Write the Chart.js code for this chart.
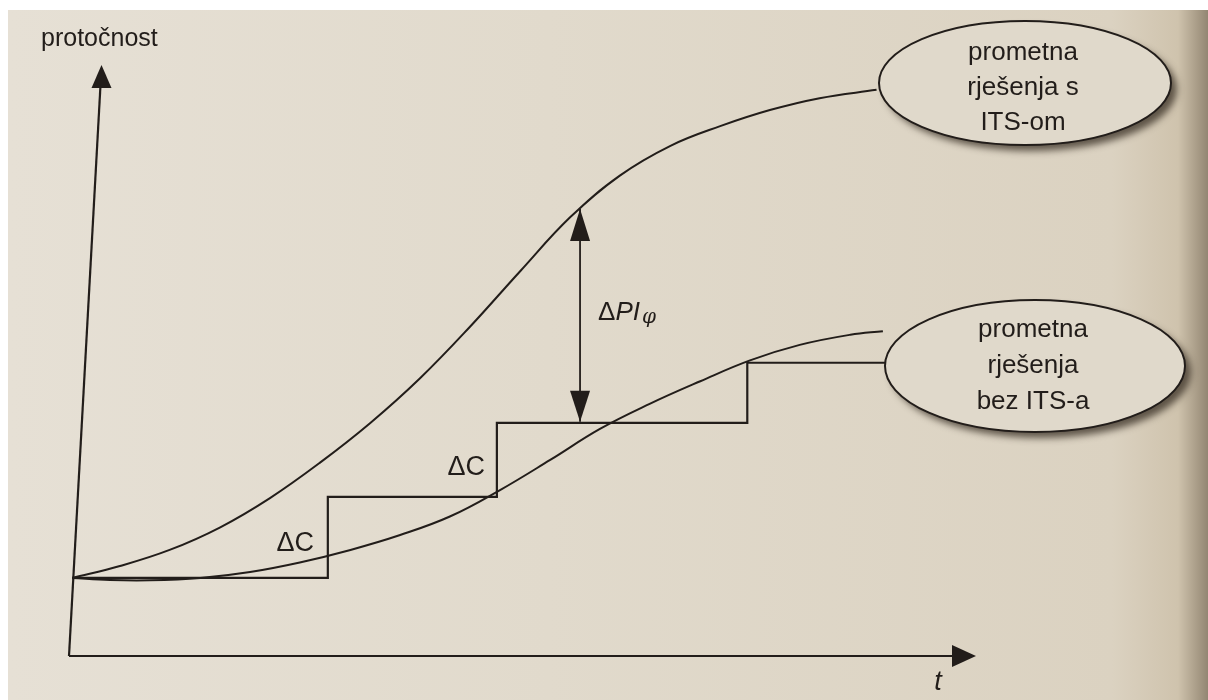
<!DOCTYPE html>
<html><head><meta charset="utf-8">
<script src="https://cdn.jsdelivr.net/npm/chart.js@4/dist/chart.umd.min.js"></script>
<style>html,body{margin:0;padding:0;background:#fff;} canvas{display:block}</style>
</head><body>
<canvas id="c" width="1208" height="700"></canvas>
<script>
// ---- data (t = time, flow = protočnost; arbitrary units 0..100) ----
const tWithITS       = [0, 5.3, 10.8, 16.4, 21.9, 27.4, 33.0, 38.5, 44.0, 49.6, 55.1, 60.6, 66.2, 71.7, 77.2, 82.7, 89.0];
const flowWithITS    = [13.1, 15.1, 17.8, 21.6, 26.5, 32.4, 39.1, 46.6, 55.2, 64.6, 73.6, 80.6, 85.6, 88.9, 91.6, 93.6, 95.0];
const tWithoutITS    = [0, 4.2, 8.6, 14.2, 19.7, 25.2, 30.8, 36.3, 41.8, 47.3, 52.9, 58.4, 63.9, 69.5, 75.0, 80.5, 86.1, 89.7];
const flowWithoutITS = [13.1, 12.75, 12.7, 13.1, 14.1, 15.7, 17.8, 20.3, 23.4, 27.8, 32.9, 38.1, 42.3, 46.1, 49.6, 52.2, 53.9, 54.5];
const tSteps         = [0, 28.3, 47.0, 74.7, 90.2];
const flowSteps      = [13.1, 26.7, 39.1, 49.2, 49.2];
const tGap           = [56.2, 56.2];
const flowGap        = [39.3, 75.0];
const labelWithITS    = ['prometna', 'rješenja s', 'ITS-om'];
const labelWithoutITS = ['prometna', 'rješenja', 'bez ITS-a'];
const yTitle = 'protočnost';
const xTitle = 't';

const ink = '#221d1a';
const pts = (xs, ys) => xs.map((x, i) => ({x, y: ys[i]}));

const bgPlugin = {
  id: 'bg',
  beforeDraw(chart) {
    const {ctx, width, height} = chart;
    ctx.save();
    ctx.fillStyle = '#ffffff';
    ctx.fillRect(0, 0, width, height);
    const g = ctx.createLinearGradient(8, 0, width, 0);
    g.addColorStop(0, '#e6e0d5');
    g.addColorStop(0.45, '#e1dacc');
    g.addColorStop(0.92, '#dbd2c1');
    g.addColorStop(0.975, '#cfc3ad');
    g.addColorStop(1, '#938672');
    ctx.fillStyle = g;
    ctx.fillRect(8, 10, width - 8, height - 10);
    ctx.restore();
  }
};

function tri(ctx, pts) {
  ctx.beginPath();
  ctx.moveTo(pts[0][0], pts[0][1]);
  ctx.lineTo(pts[1][0], pts[1][1]);
  ctx.lineTo(pts[2][0], pts[2][1]);
  ctx.closePath();
  ctx.fill();
}

const axesPlugin = {
  id: 'axesArrows',
  beforeDatasetsDraw(chart) {
    const {ctx, chartArea: ca} = chart;
    ctx.save();
    ctx.strokeStyle = ink; ctx.fillStyle = ink; ctx.lineWidth = 2.2;
    // x axis
    ctx.beginPath();
    ctx.moveTo(ca.left - 3, ca.bottom);
    ctx.lineTo(ca.right - 20, ca.bottom);
    ctx.stroke();
    tri(ctx, [[ca.right, ca.bottom], [ca.right - 24, ca.bottom - 11], [ca.right - 24, ca.bottom + 11]]);
    // y axis (slightly slanted as in the printed figure)
    const topX = ca.left + 29.5, topY = ca.top + 5;
    ctx.beginPath();
    ctx.moveTo(ca.left - 3, ca.bottom);
    ctx.lineTo(topX - 1, topY + 20);
    ctx.stroke();
    tri(ctx, [[topX, topY], [topX - 10, topY + 23], [topX + 10, topY + 23]]);
    // axis titles
    ctx.font = '25px "Liberation Sans", Arial, sans-serif';
    ctx.textBaseline = 'alphabetic';
    ctx.textAlign = 'left';
    ctx.fillText(yTitle, 41, 46);
    ctx.font = 'italic 27px "Liberation Sans", Arial, sans-serif';
    ctx.textAlign = 'center';
    ctx.fillText(xTitle, ca.right - 38, 690);
    ctx.restore();
  }
};

function ellipse(ctx, cx, cy, rx, ry, lines, lineGap, textDy) {
  ctx.save();
  ctx.beginPath();
  ctx.ellipse(cx, cy, rx, ry, 0, 0, Math.PI * 2);
  ctx.shadowColor = 'rgba(55,45,35,0.75)';
  ctx.shadowBlur = 7;
  ctx.shadowOffsetX = 6;
  ctx.shadowOffsetY = 6;
  ctx.fillStyle = '#e0d9cb';
  ctx.fill();
  ctx.shadowColor = 'transparent';
  ctx.lineWidth = 2;
  ctx.strokeStyle = ink;
  ctx.stroke();
  ctx.fillStyle = ink;
  ctx.font = '26px "Liberation Sans", Arial, sans-serif';
  ctx.textAlign = 'center';
  ctx.textBaseline = 'middle';
  const start = cy + textDy - lineGap * (lines.length - 1) / 2;
  lines.forEach((s, i) => ctx.fillText(s, cx - 2, start + i * lineGap));
  ctx.restore();
}

const annoPlugin = {
  id: 'anno',
  afterDatasetsDraw(chart) {
    const {ctx, scales: {x, y}} = chart;
    ctx.save();
    ctx.fillStyle = ink;
    // gap arrowheads, from the gap dataset's points
    const m = chart.getDatasetMeta(3).data;
    const p0 = m[0], p1 = m[1];
    tri(ctx, [[p0.x, p0.y], [p0.x - 10, p0.y - 31], [p0.x + 10, p0.y - 31]]);
    tri(ctx, [[p1.x, p1.y], [p1.x - 10, p1.y + 32], [p1.x + 10, p1.y + 32]]);
    // ΔPIφ label
    let lx = x.getPixelForValue(tGap[0]) + 18, ly = y.getPixelForValue(56.3);
    ctx.textBaseline = 'alphabetic';
    ctx.textAlign = 'left';
    ctx.font = '26px "Liberation Sans", Arial, sans-serif';
    ctx.fillText('Δ', lx, ly);
    lx += ctx.measureText('Δ').width;
    ctx.font = 'italic 26px "Liberation Sans", Arial, sans-serif';
    ctx.fillText('PI', lx, ly);
    lx += ctx.measureText('PI').width + 2;
    ctx.font = 'italic 20px "DejaVu Serif", serif';
    ctx.fillText('φ', lx, ly + 3);
    // ΔC labels
    ctx.font = '27px "Liberation Sans", Arial, sans-serif';
    ctx.textAlign = 'center';
    ctx.textBaseline = 'middle';
    ctx.fillText('ΔC', x.getPixelForValue(24.7), y.getPixelForValue(18.9));
    ctx.fillText('ΔC', x.getPixelForValue(43.6), y.getPixelForValue(31.7));
    ctx.restore();
    // call-out ellipses
    ellipse(ctx, 1025, 83, 146, 62, labelWithITS, 35, 5);
    ellipse(ctx, 1035, 366, 150, 66, labelWithoutITS, 36, 0);
  }
};

const lineDs = (data, extra) => Object.assign({
  data, borderColor: ink, borderWidth: 2, pointRadius: 0, fill: false, tension: 0.4
}, extra || {});

new Chart(document.getElementById('c'), {
  type: 'line',
  data: {
    datasets: [
      lineDs(pts(tWithITS, flowWithITS)),
      lineDs(pts(tWithoutITS, flowWithoutITS)),
      lineDs(pts(tSteps, flowSteps), {stepped: 'before', tension: 0, borderWidth: 2.2}),
      lineDs(pts(tGap, flowGap), {tension: 0, borderWidth: 1.8})
    ]
  },
  options: {
    responsive: false,
    devicePixelRatio: 1,
    animation: false,
    layout: {padding: {left: 72, right: 232, top: 60, bottom: 44}},
    plugins: {legend: {display: false}, tooltip: {enabled: false}},
    scales: {
      x: {type: 'linear', min: 0, max: 100, display: false},
      y: {type: 'linear', min: 0, max: 100, display: false}
    }
  },
  plugins: [bgPlugin, axesPlugin, annoPlugin]
});
</script>
</body></html>
